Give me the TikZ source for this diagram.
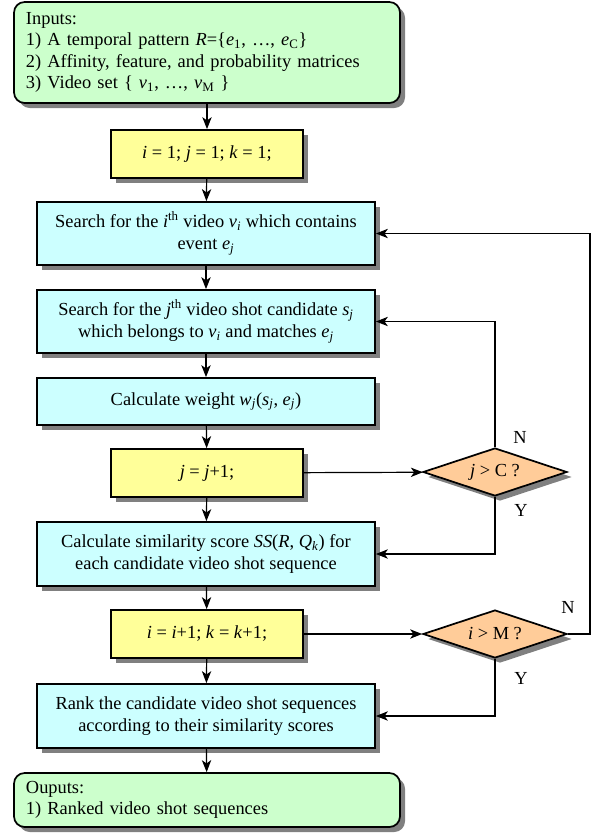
\documentclass[tikz,border=0pt]{standalone}
\usepackage{fontspec}
\setmainfont{Liberation Serif}
\usetikzlibrary{arrows.meta,shapes.geometric,shadows}
\definecolor{ingreen}{HTML}{CCFFCC}
\definecolor{boxyellow}{HTML}{FFFF99}
\definecolor{boxcyan}{HTML}{CCFFFF}
\definecolor{boxorange}{HTML}{FFCC99}
\begin{document}
\begin{tikzpicture}[x=0.75pt,y=-0.75pt,
  base/.style={draw=black, line width=1.3pt, align=center, inner sep=0pt,
    font=\fontsize{13.8}{16.5}\selectfont,
    drop shadow={shadow xshift=3.75pt, shadow yshift=-3.75pt, fill=black!50, opacity=1}},
  iobox/.style={base, rectangle, rounded corners=8pt, fill=ingreen, align=left,
    font=\fontsize{13.8}{15.9}\selectfont,
    text width=271.5pt, inner xsep=9pt, minimum width=289.5pt, minimum height=#1},
  ybox/.style={base, rectangle, fill=boxyellow, minimum width=144pt, minimum height=36pt},
  cbox/.style={base, rectangle, fill=boxcyan, minimum width=253.5pt, minimum height=#1},
  dbox/.style={base, diamond, aspect=3, fill=boxorange, minimum width=108pt, minimum height=36pt},
  arr/.style={-{Stealth[length=9pt,width=7pt,inset=2.5pt]}, line width=0.9pt},
  lbl/.style={font=\fontsize{13.8}{16.5}\selectfont, inner sep=0pt}
]
\useasboundingbox (0,0) rectangle (596,833);

\node[iobox=75.75pt] (in) at (207,52.5) {Inputs:\\
1) A temporal pattern \textit{R}=\{\textit{e}\textsubscript{1}, …, \textit{e}\textsubscript{C}\}\\
2) Affinity, feature, and probability matrices\\
3) Video set \{ \textit{v}\textsubscript{1}, …, \textit{v}\textsubscript{M} \}};

\node[ybox] (y1) at (207,154) {\textit{i} = 1; \textit{j} = 1; \textit{k} = 1;};

\node[cbox=47.25pt] (c1) at (206,233.5) {Search for the \textit{i}\textsuperscript{th} video \textit{v}\textsubscript{\textit{i}} which contains\\ event \textit{e}\textsubscript{\textit{j}}};

\node[cbox=47.25pt] (c2) at (206,321.5) {Search for the \textit{j}\textsuperscript{th} video shot candidate \textit{s}\textsubscript{\textit{j}}\\ which belongs to \textit{v}\textsubscript{\textit{i}} and matches \textit{e}\textsubscript{\textit{j}}};

\node[cbox=35.25pt] (c3) at (206,401.5) {Calculate weight \textit{w}\textsubscript{\textit{j}}(\textit{s}\textsubscript{\textit{j}}, \textit{e}\textsubscript{\textit{j}})};

\node[ybox] (y2) at (207,473) {\textit{j} = \textit{j}+1;};

\node[cbox=48pt] (c4) at (206,554) {Calculate similarity score \textit{SS}(\textit{R}, \textit{Q}\textsubscript{\textit{k}}) for\\ each candidate video shot sequence};

\node[ybox] (y3) at (207,634) {\textit{i} = \textit{i}+1; \textit{k} = \textit{k}+1;};

\node[cbox=48pt] (c5) at (206,716) {Rank the candidate video shot sequences\\ according to their similarity scores};

\node[iobox=40.5pt] (out) at (207,800) {Ouputs:\\ 1) Ranked video shot sequences};

\node[dbox] (d1) at (495,472) {\textit{j} > C ?};
\node[dbox] (d2) at (495,634) {\textit{i} > M ?};

\coordinate (r) at (590,634);

\draw[arr] (in) -- (y1);
\draw[arr] (y1) -- (c1);
\draw[arr] (c1) -- (c2);
\draw[arr] (c2) -- (c3);
\draw[arr] (c3) -- (y2);
\draw[arr] (y2) -- (c4);
\draw[arr] (c4) -- (y3);
\draw[arr] (y3) -- (c5);
\draw[arr] (c5) -- (out);

\draw[arr] (y2) -- (d1);
\draw[arr] (y3) -- (d2);
\draw[arr] (d1.north) |- (c2.east);
\draw[arr] (d1.south) |- (c4.east);
\draw[arr] (d2.east) -- (r) |- (c1.east);
\draw[arr] (d2.south) |- (c5.east);

\node[lbl] (n1) at (520,437) {N};
\node[lbl] (ya) at (521,510) {Y};
\node[lbl] (n2) at (568,607) {N};
\node[lbl] (yb) at (521,678) {Y};
\end{tikzpicture}
\end{document}
